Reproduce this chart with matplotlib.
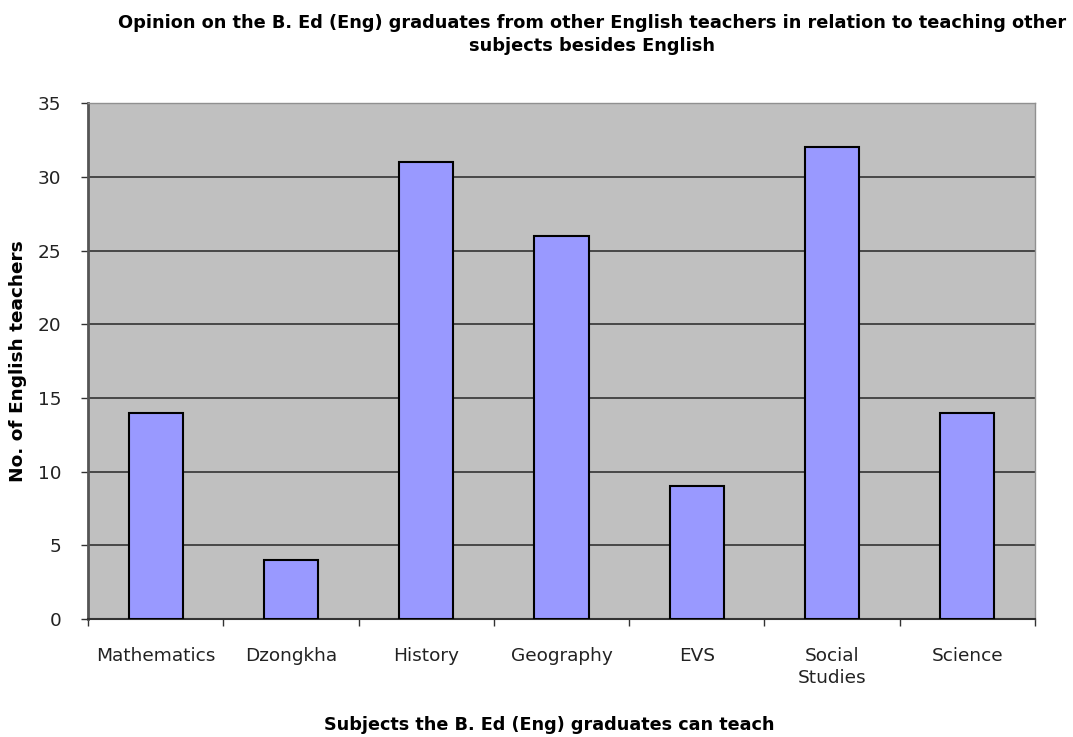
import numpy as np
import matplotlib.pyplot as plt

subjects = ['Mathematics', 'Dzongkha', 'History', 'Geography', 'EVS', 'Social\nStudies', 'Science']
teachers = [14, 4, 31, 26, 9, 32, 14]
yticks = [0, 5, 10, 15, 20, 25, 30, 35]

plt.rcParams['font.family'] = ['DejaVu Sans']

fig = plt.figure(figsize=(10.73, 7.37), dpi=100)
ax = fig.add_axes([0.082, 0.160, 0.8826, 0.700])
ax.set_facecolor('#c0c0c0')

x = np.arange(len(subjects))
ax.bar(x, teachers, width=0.4, color='#9999ff', edgecolor='black', linewidth=1.5, zorder=3)

ax.set_xlim(-0.5, len(subjects) - 0.5)
ax.set_ylim(0, 35)
ax.set_yticks(yticks)
ax.yaxis.grid(True, color='#333333', linewidth=1.2, zorder=1)
ax.set_axisbelow(True)

ax.set_xticks(x)
ax.set_xticklabels(subjects, fontsize=13.3, color='#222222', linespacing=1.3)
ax.set_xticks(np.arange(len(subjects) + 1) - 0.5, minor=True)
ax.tick_params(axis='x', which='major', length=0, pad=20)
ax.tick_params(axis='x', which='minor', length=5, width=1, direction='out', color='#333333')
ax.tick_params(axis='y', length=5, width=1, direction='out', color='#333333', labelsize=13.3, labelcolor='#222222', pad=14)

for side in ['top', 'right']:
    ax.spines[side].set_color('#909090')
    ax.spines[side].set_linewidth(1)
ax.spines['left'].set_color('#555555')
ax.spines['left'].set_linewidth(2)
ax.spines['bottom'].set_color('#333333')
ax.spines['bottom'].set_linewidth(1.5)

ax.set_ylabel('No. of English teachers', fontsize=13.3, fontweight='bold')
ax.yaxis.set_label_coords(-0.064, 0.5)
ax.set_xlabel('Subjects the B. Ed (Eng) graduates can teach', fontsize=12.7, fontweight='bold')
ax.xaxis.set_label_coords(0.487, -0.187)
fig.text(0.552, 0.953,
         'Opinion on the B. Ed (Eng) graduates from other English teachers in relation to teaching other\nsubjects besides English',
         ha='center', va='center', fontsize=12.75, fontweight='bold', linespacing=1.35)

fig.savefig('out.png', dpi=100)
